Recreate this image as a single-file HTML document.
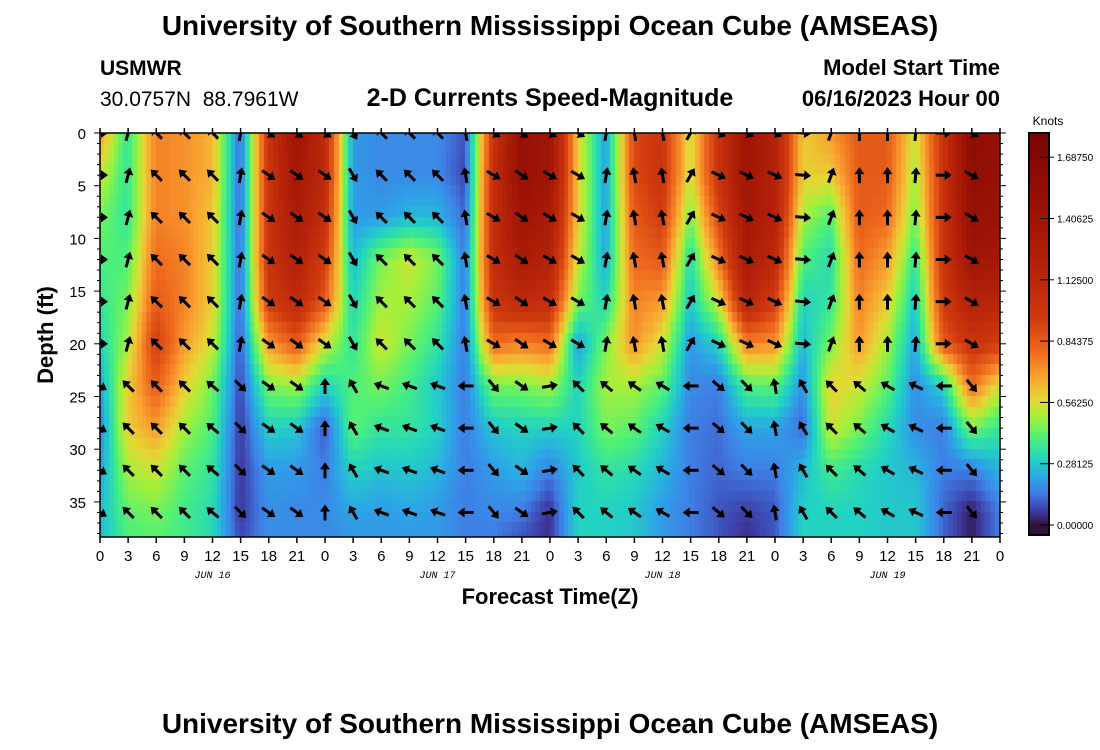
<!DOCTYPE html>
<html><head><meta charset="utf-8"><style>
body{margin:0;background:#fff;width:1100px;height:750px;overflow:hidden;position:relative;font-family:"Liberation Sans",sans-serif}
canvas{position:absolute}
svg{position:absolute;left:0;top:0}
</style></head><body>
<canvas id="hm" width="900" height="404" style="left:100px;top:133px"></canvas>
<canvas id="cb" width="20" height="402" style="left:1029px;top:133px"></canvas>
<svg id="svg" width="1100" height="750">
<text x="550" y="35" text-anchor="middle" font-size="28" font-weight="bold">University of Southern Mississippi Ocean Cube (AMSEAS)</text>
<text x="100" y="75" font-size="21" font-weight="bold">USMWR</text>
<text x="100" y="106" font-size="21" xml:space="preserve">30.0757N  88.7961W</text>
<text x="550" y="106" text-anchor="middle" font-size="25" font-weight="bold">2-D Currents Speed-Magnitude</text>
<text x="1000" y="75" text-anchor="end" font-size="22" font-weight="bold">Model Start Time</text>
<text x="1000" y="106" text-anchor="end" font-size="22" font-weight="bold">06/16/2023 Hour 00</text>
<text transform="translate(53,335) rotate(-90)" text-anchor="middle" font-size="22" font-weight="bold">Depth (ft)</text>
<text x="550" y="604" text-anchor="middle" font-size="22" font-weight="bold">Forecast Time(Z)</text>
<text x="1048" y="125" text-anchor="middle" font-size="12">Knots</text>
<text x="550" y="733" text-anchor="middle" font-size="28" font-weight="bold">University of Southern Mississippi Ocean Cube (AMSEAS)</text>
<g id="arrows"></g><g id="axes"></g>
</svg>
<script>
const times=[0,3,6,9,12,15,18,21,24,27,30,33,36,39,42,45,48,51,54,57,60,63,66,69,72,75,78,81,84,87,90,93,96];
const depths=[0,4,8,12,16,20,24,28,32,36,38];
const speed=[
[0.7,0.55,0.45,0.4,0.35,0.3,0.2,0.15,0.2,0.25,0.25],
[0.35,0.35,0.35,0.4,0.45,0.5,0.6,0.6,0.5,0.42,0.4],
[0.75,0.75,0.75,0.8,0.85,0.95,0.85,0.7,0.55,0.45,0.42],
[0.72,0.72,0.72,0.75,0.75,0.7,0.6,0.5,0.42,0.38,0.38],
[0.65,0.65,0.62,0.6,0.6,0.55,0.45,0.4,0.35,0.32,0.32],
[0.12,0.12,0.12,0.13,0.12,0.1,0.08,0.06,0.06,0.06,0.08],
[1.0,1.0,1.0,1.0,0.95,0.7,0.45,0.3,0.2,0.18,0.18],
[1.4,1.35,1.3,1.2,1.1,0.85,0.5,0.28,0.2,0.17,0.17],
[1.1,1.1,1.05,0.95,0.85,0.55,0.3,0.1,0.15,0.17,0.17],
[0.2,0.2,0.2,0.25,0.3,0.35,0.4,0.42,0.3,0.22,0.2],
[0.17,0.17,0.2,0.45,0.5,0.55,0.45,0.35,0.27,0.2,0.2],
[0.17,0.17,0.25,0.55,0.5,0.45,0.38,0.35,0.28,0.22,0.2],
[0.17,0.17,0.25,0.45,0.42,0.35,0.28,0.3,0.25,0.2,0.2],
[0.1,0.08,0.12,0.15,0.15,0.15,0.15,0.15,0.15,0.15,0.15],
[1.0,1.05,1.05,1.05,1.0,0.8,0.45,0.28,0.2,0.17,0.15],
[1.5,1.5,1.4,1.3,1.1,0.75,0.45,0.3,0.25,0.15,0.1],
[1.4,1.4,1.3,1.2,1.05,0.8,0.5,0.3,0.15,0.05,0.05],
[0.6,0.6,0.6,0.55,0.45,0.2,0.3,0.3,0.28,0.3,0.3],
[0.2,0.2,0.2,0.22,0.3,0.45,0.5,0.45,0.35,0.3,0.3],
[0.9,0.9,0.85,0.8,0.75,0.72,0.5,0.42,0.32,0.28,0.28],
[1.0,1.0,0.95,0.85,0.7,0.55,0.42,0.3,0.25,0.2,0.2],
[0.55,0.55,0.45,0.32,0.28,0.2,0.17,0.15,0.15,0.15,0.15],
[1.0,1.0,0.9,0.75,0.55,0.3,0.15,0.13,0.12,0.1,0.1],
[1.4,1.4,1.35,1.3,1.15,0.75,0.4,0.22,0.15,0.07,0.05],
[1.2,1.2,1.2,1.1,0.95,0.72,0.42,0.22,0.15,0.1,0.1],
[0.6,0.6,0.5,0.4,0.3,0.25,0.18,0.12,0.25,0.3,0.3],
[0.7,0.6,0.4,0.32,0.35,0.45,0.6,0.55,0.38,0.3,0.3],
[0.85,0.85,0.85,0.8,0.75,0.7,0.55,0.45,0.32,0.3,0.3],
[0.85,0.85,0.8,0.7,0.6,0.5,0.42,0.32,0.28,0.28,0.28],
[0.55,0.5,0.45,0.35,0.28,0.22,0.18,0.18,0.25,0.28,0.28],
[1.0,1.0,1.0,1.0,0.95,0.85,0.3,0.15,0.15,0.12,0.12],
[1.6,1.55,1.5,1.4,1.2,1.0,0.8,0.45,0.15,0.02,0.02],
[1.5,1.5,1.45,1.35,1.15,0.95,0.55,0.35,0.25,0.15,0.15]];
const arrowTimes=[0,3,6,9,12,15,18,21,24,27,30,33,36,39,42,45,48,51,54,57,60,63,66,69,72,75,78,81,84,87,90,93];
const dirUpper=[0,-75,-135,-135,-135,-80,35,35,35,60,-135,-135,-135,-100,30,35,30,30,-80,-100,-100,-60,25,25,25,5,-70,-90,-90,-85,0,30];
const dirLower=[30,-135,-135,-135,-140,45,35,35,-90,-120,-160,-160,-160,180,50,35,-10,-135,-140,-145,-150,180,40,45,-100,-120,-135,-140,-150,-155,180,50];
const arrowDepths=[0,4,8,12,16,20,24,28,32,36];
const cbTicks=[0,0.28125,0.5625,0.84375,1.125,1.40625,1.6875];
const xTickLabels=["0","3","6","9","12","15","18","21","0","3","6","9","12","15","18","21","0","3","6","9","12","15","18","21","0","3","6","9","12","15","18","21","0"];
const dateLabels=["JUN 16","JUN 17","JUN 18","JUN 19"];

const X0=100,X1=1000,Y0=133,PXFT=10.54;
const xs=t=>X0+t*(X1-X0)/96;
const ys=d=>Y0+d*PXFT;
const stops=[[0,[48,18,59]],[0.07,[62,62,168]],[0.15,[63,127,230]],[0.22,[44,166,230]],[0.3,[34,211,194]],[0.4,[76,240,122]],[0.5,[165,240,58]],[0.58,[229,216,53]],[0.68,[249,164,49]],[0.8,[239,106,30]],[0.95,[207,58,14]],[1.15,[184,37,10]],[1.4,[160,21,5]],[1.8,[122,4,3]]];
function color(v){if(v<=stops[0][0])return stops[0][1];for(let i=1;i<stops.length;i++){if(v<=stops[i][0]){const a=stops[i-1],b=stops[i],f=(v-a[0])/(b[0]-a[0]);return a[1].map((c,k)=>Math.round(c+(b[1][k]-c)*f));}}return stops[stops.length-1][1];}
function interp(arr,v){let i=0;while(i<arr.length-2&&v>arr[i+1])i++;let f=(v-arr[i])/(arr[i+1]-arr[i]);return [i,Math.max(0,Math.min(1,f))];}
function val(t,d){const [i,ft]=interp(times,t),[j,fd]=interp(depths,d);
const a=speed[i][j],b=speed[i+1][j],c=speed[i][j+1],e=speed[i+1][j+1];
return (a*(1-ft)+b*ft)*(1-fd)+(c*(1-ft)+e*ft)*fd;}
const hm=document.getElementById('hm').getContext('2d');
const cw=900/96*0.5,ch=PXFT;
for(let t=0;t<96;t+=0.5){for(let d=0;d<38.4;d+=1){const c=color(val(t+0.25,d+0.5));hm.fillStyle=`rgb(${c})`;hm.fillRect(Math.floor(xs(t)-X0),Math.floor(ys(d)-Y0),Math.ceil(cw)+1,Math.ceil(ch)+1);}}
const cb=document.getElementById('cb').getContext('2d');
const cbY=v=>525-v/0.28125*61.3;
for(let y=0;y<402;y++){const v=(525-(y+133))/61.3*0.28125;const c=color(Math.max(0,v));cb.fillStyle=`rgb(${c})`;cb.fillRect(0,y,20,1);}
const NS='http://www.w3.org/2000/svg';
function mk(tag,at,par){const e=document.createElementNS(NS,tag);for(const k in at)e.setAttribute(k,at[k]);par.appendChild(e);return e;}
const ag=document.getElementById('arrows');
const clip=mk('clipPath',{id:'pc'},document.getElementById('svg'));mk('rect',{x:X0,y:Y0,width:900,height:404},clip);
ag.setAttribute('clip-path','url(#pc)');
arrowTimes.forEach((t,i)=>{arrowDepths.forEach(d=>{const ang=(d>=24?dirLower[i]:dirUpper[i])*Math.PI/180;
const cx=xs(t),cy=ys(d),L=8,dx=Math.cos(ang),dy=Math.sin(ang);
const g=mk('g',{},ag);


const tx=cx+dx*L,ty=cy+dy*L;
mk('line',{x1:cx-dx*L,y1:cy-dy*L,x2:tx-dx*3,y2:ty-dy*3,stroke:'#000','stroke-width':3},g);
const px=-dy,py=dx;
mk('polygon',{points:`${tx},${ty} ${tx-dx*7+px*5},${ty-dy*7+py*5} ${tx-dx*7-px*5},${ty-dy*7-py*5}`,fill:'#000'},g);});});
const ax=document.getElementById('axes');
const fr=mk('rect',{x:X0,y:Y0,width:900,height:404,fill:'none',stroke:'#000','stroke-width':1.5},ax);

times.forEach((t,i)=>{const x=xs(t);mk('line',{x1:x,y1:Y0-5,x2:x,y2:Y0,stroke:'#000','stroke-width':1.5},ax);mk('line',{x1:x,y1:537,x2:x,y2:543,stroke:'#000','stroke-width':1.5},ax);
const tl=mk('text',{x:x,y:561,'text-anchor':'middle','font-size':15},ax);tl.textContent=xTickLabels[i];
});
dateLabels.forEach((s,i)=>{const e=mk('text',{x:xs(12+24*i),y:578,'text-anchor':'middle','font-size':10,'font-style':'italic','font-family':'Liberation Mono, monospace'},ax);e.textContent=s;
});
for(let d=0;d<=38;d++){const y=ys(d),L=d%5==0?6:3;mk('line',{x1:X0-L,y1:y,x2:X0,y2:y,stroke:'#000'},ax);mk('line',{x1:X1,y1:y,x2:X1+L,y2:y,stroke:'#000'},ax);
if(d%5==0){const e=mk('text',{x:86,y:y+6,'text-anchor':'end','font-size':15},ax);e.textContent=d;
}}
mk('rect',{x:1029,y:133,width:20,height:402,fill:'none',stroke:'#000','stroke-width':2},ax);
cbTicks.forEach(v=>{const y=cbY(v);mk('line',{x1:1040,y1:y,x2:1054,y2:y,stroke:'#000'},ax);
const e=mk('text',{x:1057,y:y+4,'font-size':10},ax);e.textContent=v.toFixed(5);
});
</script>
</body></html>
